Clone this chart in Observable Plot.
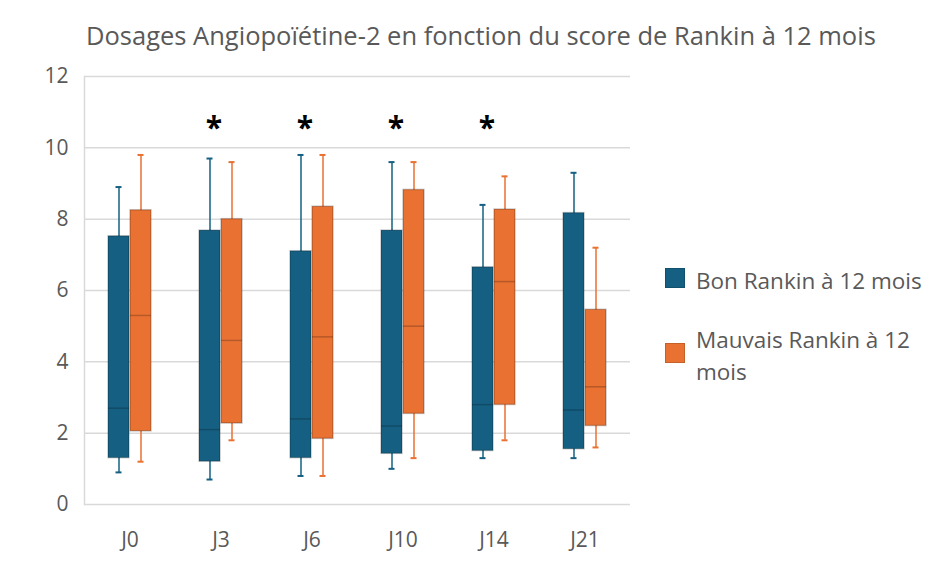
<!DOCTYPE html>
<html>
<head>
<meta charset="utf-8">
<script src="https://cdn.jsdelivr.net/npm/d3@7"></script>
<script src="https://cdn.jsdelivr.net/npm/@observablehq/plot@0.6"></script>
<style>
  body { margin: 0; background: #fff; font-family: "Open Sans", sans-serif; }
  #wrap { position: relative; width: 938px; height: 582px; overflow: hidden; }
  #title { position: absolute; left: 86px; top: 18px; font-size: 25.5px; line-height: 34px; color: #595959; white-space: nowrap; }
  #legend { position: absolute; left: 665px; top: 265px; font-size: 22.5px; color: #595959; line-height: 32px; }
  .item { position: relative; padding-left: 31px; white-space: nowrap; }
  .sw { position: absolute; left: 0; width: 20px; height: 20px; box-sizing: border-box; }
  #chart { position: absolute; left: 0; top: 0; }
</style>
</head>
<body>
<div id="wrap">
  <div id="chart"></div>
  <div id="title"></div>
  <div id="legend"></div>
</div>
<script>
const title = "Dosages Angiopoïétine-2 en fonction du score de Rankin à 12 mois";
const days = ["J0", "J3", "J6", "J10", "J14", "J21"];
const groups = ["Bon Rankin à 12 mois", "Mauvais Rankin à 12 mois"];
const colors = ["#156082", "#E97132"];
const yTicks = [0, 2, 4, 6, 8, 10, 12];

const bonMin = [0.9, 0.7, 0.8, 1.0, 1.3, 1.3];
const bonQ1  = [1.3, 1.2, 1.3, 1.42, 1.5, 1.55];
const bonMed = [2.7, 2.1, 2.4, 2.2, 2.8, 2.65];
const bonQ3  = [7.52, 7.68, 7.1, 7.68, 6.65, 8.17];
const bonMax = [8.9, 9.7, 9.8, 9.6, 8.4, 9.3];

const mauvMin = [1.2, 1.8, 0.8, 1.3, 1.8, 1.6];
const mauvQ1  = [2.05, 2.27, 1.84, 2.54, 2.79, 2.2];
const mauvMed = [5.3, 4.6, 4.7, 5.0, 6.25, 3.3];
const mauvQ3  = [8.25, 8.0, 8.35, 8.82, 8.27, 5.46];
const mauvMax = [9.8, 9.6, 9.8, 9.6, 9.2, 7.2];

const significant = ["J3", "J6", "J10", "J14"];

const rows = days.flatMap((d, i) => [
  {day: d, group: groups[0], lo: bonMin[i], q1: bonQ1[i], med: bonMed[i], q3: bonQ3[i], hi: bonMax[i]},
  {day: d, group: groups[1], lo: mauvMin[i], q1: mauvQ1[i], med: mauvMed[i], q3: mauvQ3[i], hi: mauvMax[i]}
]);

const chart = Plot.plot({
  width: 938,
  height: 582,
  marginLeft: 84,
  marginRight: 308,
  marginTop: 76,
  marginBottom: 78,
  style: {fontFamily: "Open Sans, sans-serif", color: "#595959", background: "transparent"},
  fx: {domain: days, padding: 0, axis: null, label: null},
  x: {domain: groups, paddingInner: 0.05, paddingOuter: 1.05, axis: null},
  y: {domain: [0, 12], axis: null},
  color: {domain: groups, range: colors},
  marks: [
    Plot.gridY(yTicks, {stroke: "#d9d9d9", strokeOpacity: 1, strokeWidth: 1.5}),
    Plot.frame({anchor: "left", facetAnchor: "left", stroke: "#d9d9d9", strokeWidth: 1.5}),
    Plot.axisY(yTicks, {tickSize: 0, tickPadding: 16, fontSize: 21, fill: "#595959", tickFormat: d => String(d), label: null}),
    Plot.axisFx({anchor: "bottom", tickSize: 0, tickPadding: 28, fontSize: 21, fill: "#595959", label: null}),
    Plot.ruleX(rows, {fx: "day", x: "group", y1: "lo", y2: "hi", stroke: "group", strokeWidth: 1.5}),
    Plot.tickY(rows, {fx: "day", x: "group", y: "lo", stroke: "group", strokeWidth: 2, insetLeft: 7.5, insetRight: 7.5}),
    Plot.tickY(rows, {fx: "day", x: "group", y: "hi", stroke: "group", strokeWidth: 2, insetLeft: 7.5, insetRight: 7.5}),
    Plot.barY(rows, {fx: "day", x: "group", y1: "q1", y2: "q3", fill: "group", stroke: "#000", strokeOpacity: 0.22, strokeWidth: 1.5}),
    Plot.tickY(rows, {fx: "day", x: "group", y: "med", stroke: "#000", strokeOpacity: 0.22, strokeWidth: 1.5}),
    Plot.text(significant, {fx: d => d, y: () => 10.55, dx: -7, text: () => "*", fontSize: 30, fontWeight: "bold", fill: "#000"})
  ]
});
document.getElementById("chart").appendChild(chart);
document.getElementById("title").textContent = title;

const legend = document.getElementById("legend");
const legendLines = [["Bon Rankin à 12 mois"], ["Mauvais Rankin à 12", "mois"]];
legendLines.forEach((lines, i) => {
  const item = document.createElement("div");
  item.className = "item";
  item.style.marginBottom = i === 0 ? "27px" : "0";
  const sw = document.createElement("div");
  sw.className = "sw";
  sw.style.background = colors[i];
  sw.style.border = "1px solid rgba(0,0,0,0.15)";
  sw.style.top = i === 0 ? "3px" : "19px";
  item.appendChild(sw);
  lines.forEach(t => { const l = document.createElement("div"); l.textContent = t; item.appendChild(l); });
  legend.appendChild(item);
});
</script>
</body>
</html>
